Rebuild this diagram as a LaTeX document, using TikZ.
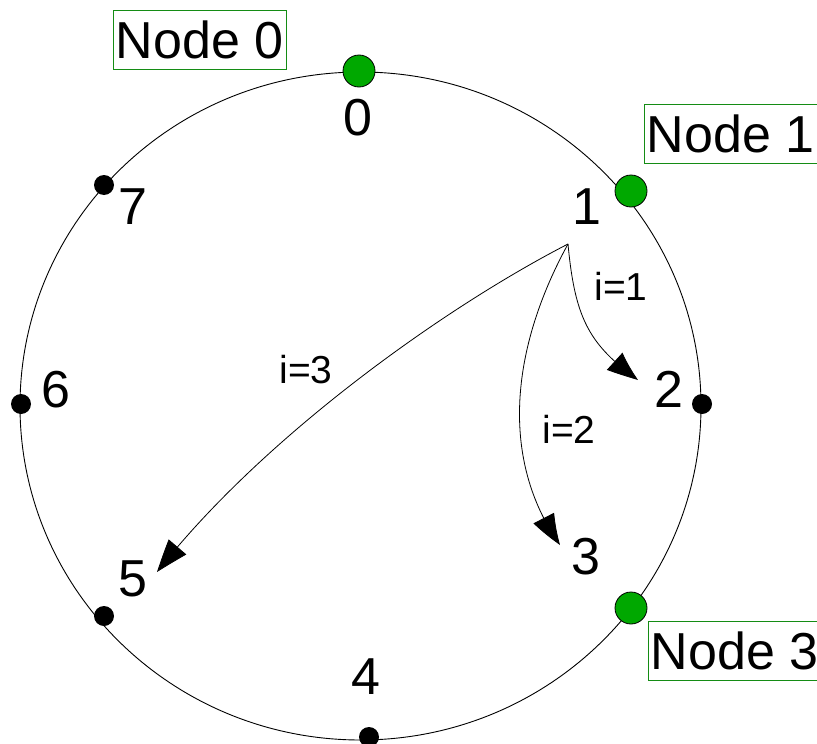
\documentclass[tikz,border=0pt]{standalone}
\usepackage{fontspec}
\setmainfont{Liberation Sans}
\usetikzlibrary{arrows.meta,bending}
\definecolor{dotgreen}{RGB}{0,168,0}
\definecolor{boxgreen}{RGB}{20,140,20}
\tikzset{
  big/.style={font=\fontsize{52}{60}\selectfont, inner sep=0pt, text depth=0pt},
  small/.style={font=\fontsize{39}{46}\selectfont, inner sep=0pt, text depth=0pt},
  namebox/.style={big, draw=boxgreen, line width=1pt, minimum width=173pt, minimum height=59pt},
  gdot/.style={circle, fill=dotgreen, draw=black, line width=0.8pt, minimum size=32pt, inner sep=0pt},
  bdot/.style={circle, fill=black, minimum size=20pt, inner sep=0pt},
  hop/.style={line width=0.8pt, -{Triangle[length=32pt,width=23pt,bend]}}
}
\begin{document}
\begin{tikzpicture}[x=1pt,y=-1pt]
\useasboundingbox (0,0) rectangle (817,744);
\draw[line width=0.9pt] (360.5,406) ellipse [x radius=340.5, y radius=334];
% dots
\node[gdot] (d0) at (359,71) {};
\node[gdot] (d1) at (631,191) {};
\node[bdot] (d2) at (702,404) {};
\node[gdot] (d3) at (631,608) {};
\node[bdot] (d4) at (369,737) {};
\node[bdot] (d5) at (104,616) {};
\node[bdot] (d6) at (21,404) {};
\node[bdot] (d7) at (104,185) {};
% number labels
\node[big] (l0) at (358,117) {0};
\node[big] (l1) at (587,207) {1};
\node[big] (l2) at (669,389) {2};
\node[big] (l3) at (586,556) {3};
\node[big] (l4) at (366,677) {4};
\node[big] (l5) at (133,579) {5};
\node[big] (l6) at (56,389) {6};
\node[big] (l7) at (133,207) {7};
% name boxes
\node[namebox] (n0) at (199.5,39.5) {Node 0};
\node[namebox] (n1) at (730.5,133.5) {Node 1};
\node[namebox] (n3) at (734.5,650.7) {Node 3};
% arrows
\coordinate (src) at (568,244);
\coordinate (t2) at (638,380);
\coordinate (t3) at (560,545);
\coordinate (t5) at (157,572);
\draw[hop] (src) .. controls (575,320) and (590,345) .. (t2);
\draw[hop] (src) .. controls (510,350) and (500,460) .. (t3);
\draw[hop] (src) .. controls (440,310) and (260,440) .. (t5);
% arrow labels
\node[small] (i1) at (621,286) {i=1};
\node[small] (i2) at (569,429) {i=2};
\node[small] (i3) at (306,369) {i=3};
\end{tikzpicture}
\end{document}
